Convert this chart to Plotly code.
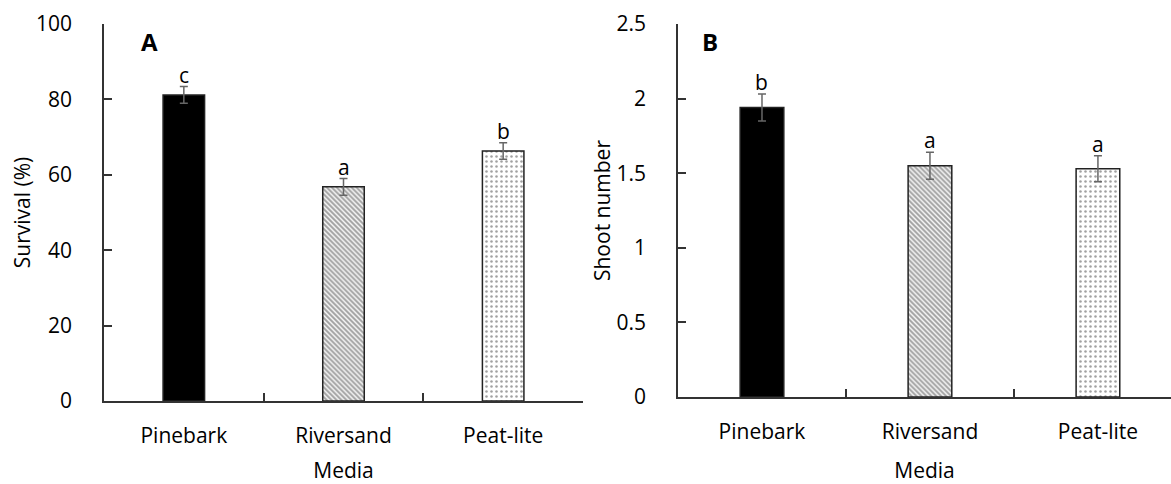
import plotly.graph_objects as go

categories = ["Pinebark", "Riversand", "Peat-lite"]
survival = [81.2, 56.8, 66.3]
survival_err = [2.2, 2.2, 2.2]
survival_letters = ["c", "a", "b"]
shoots = [1.94, 1.55, 1.53]
shoots_err = [0.09, 0.09, 0.087]
shoots_letters = ["b", "a", "a"]

FONT = "Open Sans"
fills = ["black", "white", "white"]
patterns = ["", "\\", "."]
psizes = [4, 3.5, 5]
psolid = [0.3, 0.6, 0.2]

fig = go.Figure()

def add_bars(vals, errs, xa, ya):
    fig.add_trace(go.Bar(
        x=categories, y=vals, xaxis=xa, yaxis=ya, width=0.26,
        marker=dict(color=fills, line=dict(color="#222", width=1.5),
                    pattern=dict(shape=patterns, fgcolor="#000", bgcolor="white",
                                 size=psizes, solidity=psolid, fillmode="overlay")),
        error_y=dict(type="data", array=errs, color="#666", thickness=1.5, width=4),
        showlegend=False))

add_bars(survival, survival_err, "x", "y")
add_bars(shoots, shoots_err, "x2", "y2")

lf = dict(family=FONT, size=21, color="black")
ann = []
for c, v, e, t in zip(categories, survival, survival_err, survival_letters):
    ann.append(dict(x=c, y=v + e, xref="x", yref="y", text=t, showarrow=False,
                    yanchor="bottom", yshift=-4, font=lf))
for c, v, e, t in zip(categories, shoots, shoots_err, shoots_letters):
    ann.append(dict(x=c, y=v + e, xref="x2", yref="y2", text=t, showarrow=False,
                    yanchor="bottom", yshift=-4, font=lf))
ann.append(dict(x=150/1171, y=1-41/484, xref="paper", yref="paper", text="<b>A</b>",
                xanchor="center", yanchor="middle",
                showarrow=False, font=dict(family=FONT, size=24, color="black")))
ann.append(dict(x=710/1171, y=1-41/484, xref="paper", yref="paper", text="<b>B</b>",
                xanchor="center", yanchor="middle",
                showarrow=False, font=dict(family=FONT, size=24, color="black")))

tickfont = dict(family=FONT, size=21, color="black")
xcommon = dict(showline=True, linecolor="#333", linewidth=1.5, ticks="inside",
               tickson="boundaries", ticklen=8, tickcolor="#333", tickwidth=1.5,
               tickfont=tickfont, showgrid=False, zeroline=False, automargin=False,
               ticklabelstandoff=15)
ycommon = dict(showline=True, linecolor="#333", linewidth=1.5, ticks="inside",
               ticklen=8, tickcolor="#333", tickwidth=1.5, tickfont=tickfont,
               showgrid=False, zeroline=False, automargin=False, ticklabelstandoff=26)

fig.update_layout(
    width=1171, height=484, margin=dict(l=0, r=0, t=0, b=0),
    paper_bgcolor="white", plot_bgcolor="white",
    xaxis=dict(domain=[104/1171, 583/1171], anchor="y", range=[-0.5, 2.5],
               title=dict(text="Media", font=tickfont, standoff=25), **xcommon),
    yaxis=dict(domain=[(484-401)/484, (484-24)/484], anchor="x", range=[0, 100],
               tickvals=[0, 20, 40, 60, 80, 100],
               title=dict(text="Survival (%)", font=tickfont, standoff=0), **ycommon),
    xaxis2=dict(domain=[678/1171, 1.0], anchor="y2", range=[-0.5, 2.435],
                title=dict(text="Media", font=tickfont, standoff=25), **xcommon),
    yaxis2=dict(domain=[(484-397)/484, (484-24)/484], anchor="x2", range=[0, 2.5],
                tickvals=[0, 0.5, 1, 1.5, 2, 2.5],
                title=dict(text="Shoot number", font=tickfont, standoff=0), **ycommon),
    annotations=ann,
)

fig.write_html("out.html")
